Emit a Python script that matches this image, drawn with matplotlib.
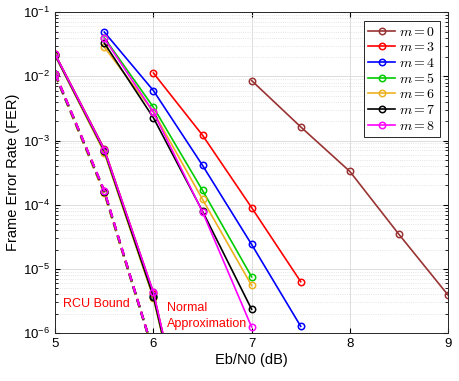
import matplotlib
matplotlib.use("Agg")
import matplotlib.pyplot as plt

plt.rcParams['mathtext.fontset'] = 'cm'
plt.rcParams['font.family'] = ['Liberation Sans', 'DejaVu Sans']

m_labels = ["0", "3", "4", "5", "6", "7", "8"]
colors = ["#993333", "#ff0000", "#0000ff", "#00cc00", "#edb120", "#000000", "#ff00ff"]

# simulated FER curves
x_m0 = [7.0, 7.5, 8.0, 8.5, 9.0]
fer_m0 = [8.6e-3, 1.63e-3, 3.3e-4, 3.45e-5, 3.9e-6]
x_m3 = [6.0, 6.5, 7.0, 7.5]
fer_m3 = [1.13e-2, 1.21e-3, 9.0e-5, 6.3e-6]
x_m4 = [5.5, 6.0, 6.5, 7.0, 7.5]
fer_m4 = [4.9e-2, 6.0e-3, 4.1e-4, 2.4e-5, 1.27e-6]
x_m5 = [5.5, 6.0, 6.5, 7.0]
fer_m5 = [4.0e-2, 3.3e-3, 1.67e-4, 7.5e-6]
x_m6 = [5.5, 6.0, 6.5, 7.0]
fer_m6 = [2.85e-2, 2.8e-3, 1.21e-4, 5.5e-6]
x_m7 = [5.5, 6.0, 6.5, 7.0]
fer_m7 = [3.3e-2, 2.26e-3, 7.9e-5, 2.34e-6]
x_m8 = [5.5, 6.0, 6.5, 7.0]
fer_m8 = [3.9e-2, 2.77e-3, 7.7e-5, 1.24e-6]

sim_x = [x_m0, x_m3, x_m4, x_m5, x_m6, x_m7, x_m8]
sim_fer = [fer_m0, fer_m3, fer_m4, fer_m5, fer_m6, fer_m7, fer_m8]

# normal approximation (solid) and RCU bound (dashed), per m
bound_x = [5.0, 5.5, 6.0, 6.5]
na_m0 = [2.2e-2, 7.4e-4, 4.3e-6, 2e-9]
na_m3 = [2.2e-2, 7.2e-4, 4.1e-6, 2e-9]
na_m4 = [2.1e-2, 6.8e-4, 3.8e-6, 2e-9]
na_m5 = [2.15e-2, 6.6e-4, 3.6e-6, 2e-9]
na_m6 = [2.1e-2, 6.5e-4, 3.5e-6, 2e-9]
na_m7 = [2.15e-2, 6.9e-4, 3.7e-6, 2e-9]
na_m8 = [2.2e-2, 7.2e-4, 4.3e-6, 2e-9]
rcu_m0 = [1.1e-2, 1.65e-4, 5e-7, 1e-10]
rcu_m3 = [1.1e-2, 1.6e-4, 5e-7, 1e-10]
rcu_m4 = [1.05e-2, 1.55e-4, 5e-7, 1e-10]
rcu_m5 = [1.08e-2, 1.55e-4, 5e-7, 1e-10]
rcu_m6 = [1.05e-2, 1.5e-4, 5e-7, 1e-10]
rcu_m7 = [1.08e-2, 1.6e-4, 5e-7, 1e-10]
rcu_m8 = [1.1e-2, 1.65e-4, 5e-7, 1e-10]
na_all = [na_m0, na_m3, na_m4, na_m5, na_m6, na_m7, na_m8]
rcu_all = [rcu_m0, rcu_m3, rcu_m4, rcu_m5, rcu_m6, rcu_m7, rcu_m8]

xticks = [5, 6, 7, 8, 9]

fig = plt.figure(figsize=(4.6, 3.81), dpi=100)
ax = fig.add_axes([0.12, 0.126, 0.854, 0.842])
ax.set_yscale('log')

lw = 1.2
ms = 4.6
mew = 1.1
for c, na, rcu in zip(colors, na_all, rcu_all):
    ax.plot(bound_x, na, '-', color=c, lw=lw, marker='o', ms=ms, mfc='none', mew=mew)
    ax.plot(bound_x, rcu, '--', color=c, lw=lw + 0.4, marker='o', ms=ms, mfc='none', mew=mew,
            dashes=(3.5, 2.5))

handles = []
for lab, c, xs, fs in zip(m_labels, colors, sim_x, sim_fer):
    h, = ax.plot(xs, fs, '-', color=c, lw=lw, marker='o', ms=ms, mfc='none', mew=mew,
                 label=r'$m = %s$' % lab)
    handles.append(h)

ax.set_xlim(5, 9)
ax.set_ylim(1e-6, 1e-1)
ax.set_xticks(xticks)
ax.set_xticklabels([str(t) for t in xticks])

ax.grid(True, which='major', color='#dddddd', lw=0.7)
ax.grid(True, which='minor', color='#dddddd', lw=0.6, ls=':')
ax.tick_params(which='both', direction='in', top=True, right=True, labelsize=9.5)
for s in ax.spines.values():
    s.set_color('#262626')
    s.set_linewidth(0.7)

ax.set_xlabel('Eb/N0 (dB)', fontsize=10.5, labelpad=2)
ax.set_ylabel('Frame Error Rate (FER)', fontsize=10.5, labelpad=2)

ax.text(5.08, 2.8e-6, 'RCU Bound', color='red', fontsize=9, va='center')
ax.text(6.14, 2.45e-6, 'Normal', color='red', fontsize=9, va='center')
ax.text(6.14, 1.38e-6, 'Approximation', color='red', fontsize=9, va='center')

leg = ax.legend(handles=handles, loc='upper right', fontsize=10, handlelength=2.0,
                handletextpad=0.25, borderpad=0.3, labelspacing=0.12,
                fancybox=False, framealpha=1, borderaxespad=0.6)
leg.get_frame().set_edgecolor('#262626')
leg.get_frame().set_linewidth(0.7)

fig.savefig('out.png', dpi=100)
